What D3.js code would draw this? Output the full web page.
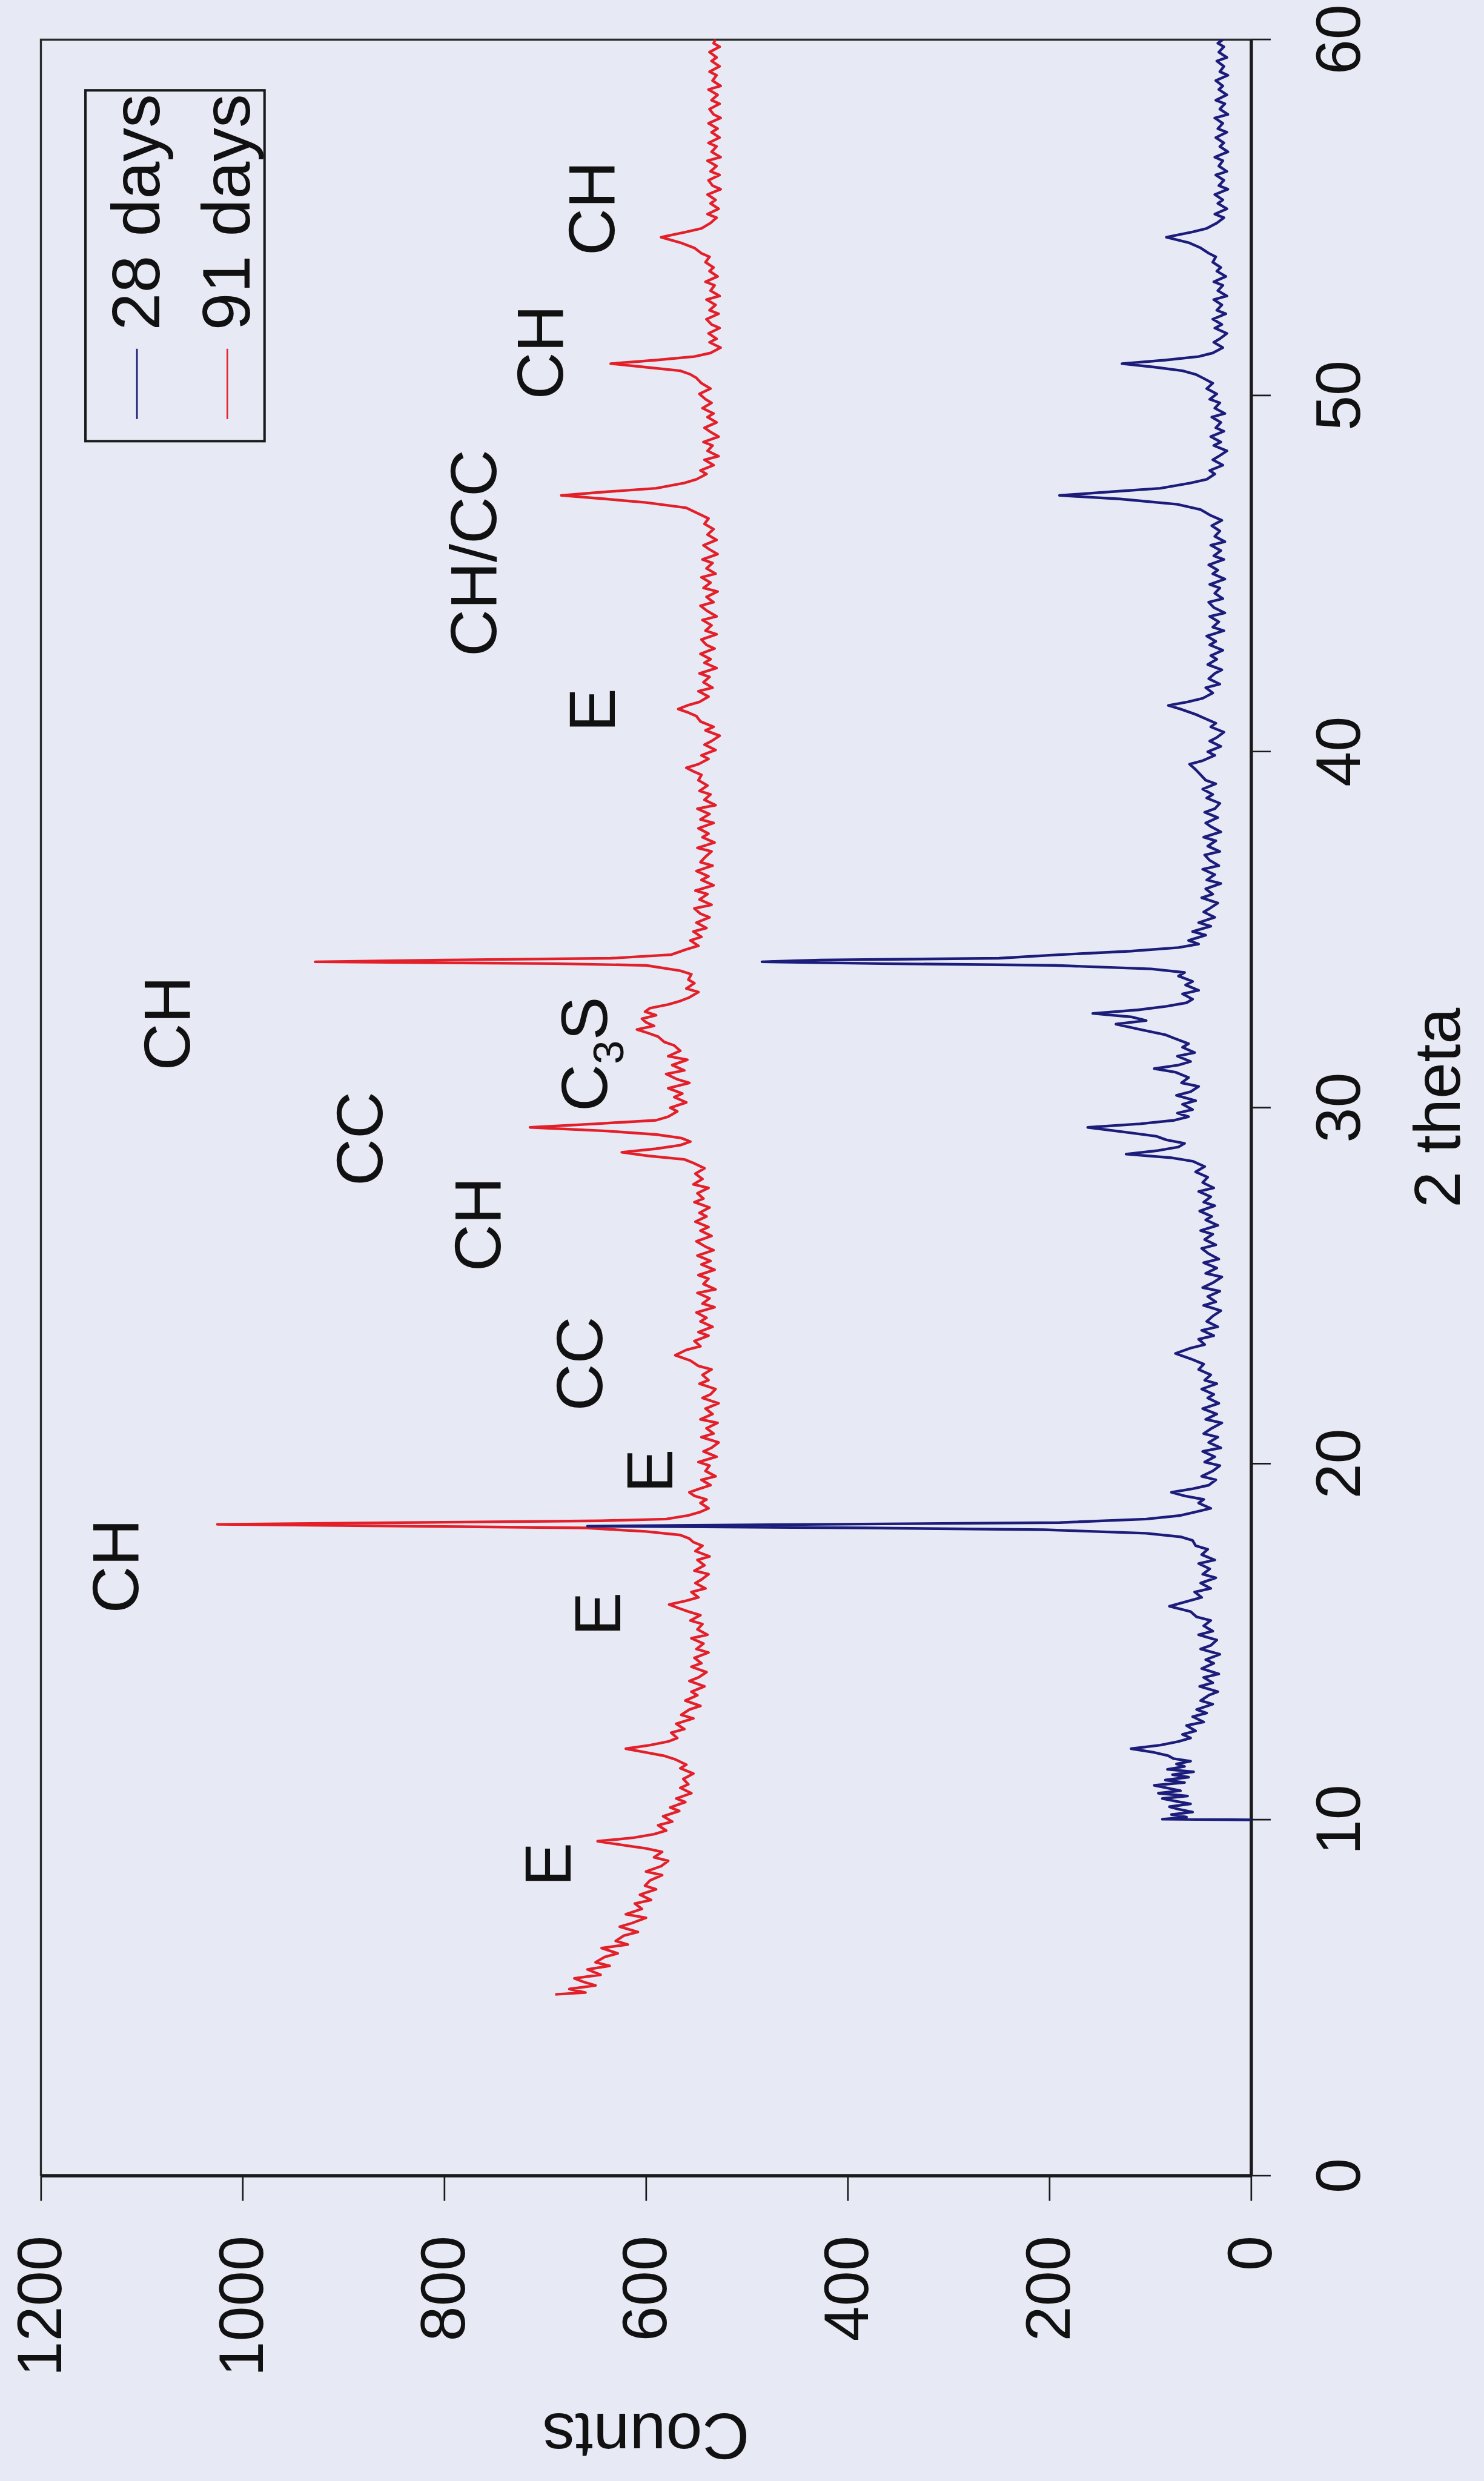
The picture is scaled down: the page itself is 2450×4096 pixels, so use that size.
<!doctype html>
<html lang="en">
<head>
<meta charset="UTF-8">
<title>XRD 28 / 91 days</title>
<script src="https://cdn.jsdelivr.net/npm/d3@7"></script>
<style>
  html, body { margin: 0; padding: 0; background: #e7eaf5; }
  svg { display: block; }
</style>
</head>
<body>
<svg id="chart" width="2450" height="4096"></svg>
<script>
// [2 theta, counts]
const days28 = [
  [10.0,0],[10.02,88],[10.08,64],[10.15,79],[10.22,58],[10.3,72],[10.37,81],[10.45,60],[10.52,74],[10.6,88],
  [10.67,63],[10.75,92],[10.82,70],[10.9,84],[10.97,96],[11.05,66],[11.12,85],[11.2,62],[11.27,78],[11.35,57],
  [11.42,83],[11.5,66],[11.57,74],[11.65,60],[11.72,77],[11.8,82],[11.9,97],[12.0,119],[12.1,90],[12.2,72],
  [12.3,60],[12.4,68],[12.5,55],[12.65,64],[12.75,47],[12.9,58],[13.0,44],[13.1,54],[13.25,38],[13.35,50],
  [13.5,42],[13.6,33],[13.75,51],[13.85,38],[14.0,47],[14.1,32],[14.25,49],[14.4,37],[14.5,45],[14.65,31],
  [14.8,50],[14.9,40],[15.05,34],[15.2,52],[15.3,38],[15.45,47],[15.6,40],[15.7,54],[15.85,60],[16.0,81],
  [16.15,62],[16.25,49],[16.4,56],[16.5,40],[16.65,50],[16.8,35],[16.9,48],[17.05,41],[17.2,52],[17.3,36],
  [17.45,49],[17.6,43],[17.7,55],[17.85,58],[17.95,70],[18.05,104],[18.15,205],[18.2,382],[18.25,658],[18.3,427],
  [18.35,190],[18.45,104],[18.55,70],[18.65,55],[18.75,40],[18.9,52],[19.0,47],[19.1,66],[19.2,79],[19.3,58],
  [19.4,42],[19.55,35],[19.65,49],[19.8,38],[19.95,31],[20.05,46],[20.2,36],[20.35,48],[20.45,30],[20.6,42],
  [20.75,33],[20.85,47],[21.0,39],[21.15,29],[21.25,45],[21.4,34],[21.55,48],[21.7,32],[21.85,43],[21.95,37],
  [22.1,49],[22.25,34],[22.35,46],[22.5,40],[22.65,52],[22.8,47],[22.95,60],[23.1,75],[23.25,60],[23.35,46],
  [23.5,52],[23.6,37],[23.75,49],[23.85,33],[24.0,44],[24.15,38],[24.3,30],[24.45,47],[24.55,35],[24.7,43],
  [24.85,31],[24.95,48],[25.1,37],[25.25,29],[25.35,45],[25.5,34],[25.65,47],[25.75,32],[25.9,42],[26.05,49],
  [26.15,35],[26.3,46],[26.45,38],[26.55,50],[26.7,33],[26.85,45],[26.95,39],[27.1,51],[27.25,36],[27.35,47],
  [27.5,40],[27.65,52],[27.75,37],[27.9,48],[28.05,43],[28.2,55],[28.35,46],[28.5,58],[28.6,80],[28.7,124],
  [28.8,92],[28.9,72],[29.0,66],[29.1,84],[29.2,94],[29.3,120],[29.45,162],[29.55,110],[29.65,76],[29.75,62],
  [29.85,73],[29.95,58],[30.1,68],[30.2,55],[30.35,74],[30.45,60],[30.6,52],[30.7,69],[30.85,62],[31.0,75],
  [31.1,96],[31.2,72],[31.3,60],[31.45,73],[31.55,56],[31.7,68],[31.8,62],[31.95,76],[32.05,85],[32.2,110],
  [32.35,134],[32.45,104],[32.55,118],[32.65,157],[32.75,112],[32.85,84],[32.95,64],[33.05,58],[33.2,68],[33.3,52],
  [33.45,65],[33.55,58],[33.7,72],[33.8,66],[33.9,99],[34.0,195],[34.05,366],[34.1,485],[34.15,427],[34.2,250],
  [34.3,190],[34.4,119],[34.5,72],[34.6,52],[34.7,62],[34.85,45],[34.95,58],[35.1,40],[35.2,52],[35.35,36],
  [35.5,47],[35.6,41],[35.75,33],[35.9,49],[36.0,38],[36.15,45],[36.3,30],[36.4,44],[36.55,36],[36.7,48],
  [36.8,32],[36.95,41],[37.1,46],[37.2,31],[37.35,43],[37.5,35],[37.6,47],[37.75,30],[37.9,40],[38.0,45],
  [38.15,33],[38.3,46],[38.4,36],[38.55,31],[38.7,44],[38.8,38],[38.95,48],[39.1,35],[39.2,45],[39.35,50],
  [39.5,55],[39.65,61],[39.75,48],[39.9,36],[40.0,43],[40.15,30],[40.3,41],[40.4,34],[40.55,27],[40.7,40],
  [40.8,35],[40.95,47],[41.05,55],[41.2,70],[41.3,82],[41.4,63],[41.5,48],[41.65,38],[41.8,45],[41.9,31],
  [42.05,42],[42.2,36],[42.3,29],[42.45,43],[42.6,34],[42.7,40],[42.85,28],[43.0,41],[43.1,35],[43.25,44],
  [43.4,27],[43.5,38],[43.65,32],[43.8,41],[43.9,26],[44.05,37],[44.2,42],[44.3,28],[44.45,36],[44.6,31],
  [44.7,41],[44.85,26],[45.0,38],[45.1,33],[45.25,42],[45.4,27],[45.5,37],[45.65,30],[45.8,40],[45.9,26],
  [46.05,36],[46.2,31],[46.35,39],[46.5,29],[46.65,41],[46.8,50],[46.95,73],[47.1,130],[47.2,190],[47.3,140],
  [47.4,90],[47.55,60],[47.65,44],[47.8,36],[47.9,41],[48.05,28],[48.2,38],[48.3,32],[48.45,24],[48.6,37],
  [48.7,30],[48.85,40],[49.0,27],[49.1,35],[49.25,30],[49.4,39],[49.5,26],[49.65,36],[49.8,31],[49.9,41],
  [50.05,34],[50.2,44],[50.35,38],[50.5,48],[50.6,55],[50.7,68],[50.8,95],[50.9,128],[51.0,85],[51.1,52],
  [51.2,38],[51.35,28],[51.5,37],[51.6,31],[51.75,24],[51.9,36],[52.0,29],[52.15,38],[52.3,25],[52.4,34],
  [52.55,29],[52.7,37],[52.8,24],[52.95,33],[53.1,28],[53.2,37],[53.35,25],[53.5,34],[53.6,30],[53.75,38],
  [53.9,35],[54.0,42],[54.15,50],[54.3,62],[54.45,84],[54.6,58],[54.7,44],[54.85,34],[55.0,27],[55.1,36],
  [55.25,24],[55.4,33],[55.5,28],[55.65,36],[55.8,23],[55.9,32],[56.05,27],[56.2,35],[56.3,24],[56.45,32],
  [56.6,28],[56.7,36],[56.85,23],[57.0,31],[57.1,27],[57.25,35],[57.4,24],[57.5,33],[57.65,28],[57.8,36],
  [57.9,23],[58.05,31],[58.2,26],[58.3,35],[58.45,24],[58.6,32],[58.7,28],[58.85,35],[59.0,23],[59.1,31],
  [59.25,27],[59.4,34],[59.5,24],[59.65,32],[59.8,27],[59.9,33],[60.0,28]
];

const days91 = [
  [5.1,690],[5.15,660],[5.25,676],[5.35,650],[5.45,662],[5.55,671],[5.65,645],[5.8,658],[5.9,636],[6.0,650],
  [6.15,641],[6.25,628],[6.4,644],[6.5,618],[6.6,630],[6.75,622],[6.85,608],[7.0,626],[7.1,614],[7.25,600],
  [7.35,620],[7.5,604],[7.65,611],[7.75,595],[7.9,606],[8.05,590],[8.15,601],[8.3,596],[8.45,584],[8.55,600],
  [8.7,585],[8.85,578],[8.95,592],[9.1,584],[9.2,600],[9.3,625],[9.4,648],[9.5,612],[9.6,592],[9.7,580],
  [9.85,588],[9.95,574],[10.1,583],[10.25,567],[10.35,576],[10.5,561],[10.6,570],[10.75,555],[10.9,566],[11.0,558],
  [11.15,563],[11.3,553],[11.45,566],[11.55,560],[11.7,571],[11.8,582],[11.9,601],[12.0,620],[12.1,596],[12.2,578],
  [12.3,569],[12.45,575],[12.55,562],[12.7,570],[12.85,553],[12.95,565],[13.1,557],[13.2,546],[13.35,561],[13.5,549],
  [13.6,555],[13.75,542],[13.9,557],[14.0,548],[14.15,540],[14.3,555],[14.4,545],[14.55,552],[14.7,538],[14.8,550],
  [14.95,543],[15.1,555],[15.2,539],[15.35,549],[15.5,544],[15.6,556],[15.75,546],[15.85,558],[15.95,568],[16.05,577],
  [16.15,561],[16.25,548],[16.4,555],[16.5,541],[16.65,551],[16.75,545],[16.9,538],[17.0,552],[17.15,542],[17.3,549],
  [17.4,537],[17.55,551],[17.7,544],[17.8,553],[17.9,557],[18.0,566],[18.1,600],[18.2,660],[18.25,840],[18.3,1025],
  [18.35,840],[18.4,645],[18.45,580],[18.55,558],[18.65,546],[18.75,538],[18.9,546],[19.0,540],[19.1,552],[19.2,557],
  [19.3,547],[19.4,536],[19.55,545],[19.65,531],[19.8,541],[19.95,537],[20.05,548],[20.2,530],[20.35,543],[20.45,535],
  [20.6,528],[20.75,545],[20.85,533],[21.0,540],[21.15,529],[21.25,546],[21.4,534],[21.55,541],[21.7,528],[21.85,544],
  [21.95,536],[22.1,531],[22.25,547],[22.35,538],[22.5,544],[22.65,535],[22.75,548],[22.9,556],[23.05,571],[23.2,560],
  [23.3,546],[23.45,552],[23.6,538],[23.7,548],[23.85,534],[24.0,546],[24.1,540],[24.25,550],[24.4,532],[24.5,544],
  [24.65,537],[24.8,549],[24.9,531],[25.05,543],[25.2,538],[25.3,548],[25.45,532],[25.6,545],[25.7,536],[25.85,549],
  [26.0,533],[26.1,541],[26.25,550],[26.4,535],[26.55,546],[26.65,538],[26.8,551],[26.95,540],[27.05,547],[27.2,537],
  [27.35,552],[27.45,543],[27.6,549],[27.75,538],[27.85,553],[28.0,544],[28.15,551],[28.3,542],[28.45,553],[28.55,562],
  [28.65,598],[28.75,624],[28.85,590],[28.95,566],[29.05,556],[29.15,565],[29.25,590],[29.35,640],[29.45,715],[29.55,650],
  [29.65,590],[29.75,578],[29.9,569],[30.0,576],[30.15,560],[30.3,572],[30.4,564],[30.55,578],[30.7,557],[30.8,569],
  [30.95,580],[31.05,562],[31.2,574],[31.35,559],[31.45,578],[31.6,566],[31.75,572],[31.85,582],[32.0,588],[32.1,598],
  [32.2,609],[32.3,592],[32.4,600],[32.5,604],[32.6,590],[32.7,601],[32.8,596],[32.9,578],[33.0,566],[33.1,557],
  [33.25,548],[33.35,560],[33.5,552],[33.6,558],[33.75,555],[33.85,566],[34.0,600],[34.05,690],[34.1,928],[34.15,800],
  [34.2,635],[34.3,575],[34.45,560],[34.55,548],[34.7,556],[34.8,545],[34.95,553],[35.05,540],[35.2,550],[35.35,537],
  [35.45,546],[35.6,552],[35.7,535],[35.85,547],[36.0,539],[36.1,551],[36.25,533],[36.4,545],[36.5,538],[36.65,550],
  [36.8,534],[36.9,546],[37.05,541],[37.2,535],[37.3,549],[37.45,532],[37.6,544],[37.7,538],[37.85,548],[38.0,533],
  [38.1,546],[38.25,537],[38.4,549],[38.5,531],[38.65,542],[38.8,536],[38.9,547],[39.05,539],[39.2,548],[39.35,545],
  [39.45,553],[39.55,560],[39.65,548],[39.8,538],[39.9,545],[40.05,531],[40.2,542],[40.3,535],[40.45,527],[40.6,541],
  [40.7,533],[40.85,546],[41.0,550],[41.1,558],[41.2,568],[41.3,559],[41.4,547],[41.55,538],[41.7,548],[41.8,534],
  [41.95,543],[42.1,537],[42.2,547],[42.35,530],[42.5,542],[42.6,536],[42.75,546],[42.9,532],[43.0,540],[43.15,545],
  [43.3,530],[43.4,541],[43.55,535],[43.7,544],[43.8,530],[43.95,539],[44.1,546],[44.2,533],[44.35,540],[44.5,529],
  [44.6,543],[44.75,536],[44.9,545],[45.0,531],[45.15,540],[45.3,534],[45.4,544],[45.55,529],[45.7,538],[45.8,543],
  [45.95,530],[46.1,539],[46.25,533],[46.4,542],[46.55,538],[46.7,549],[46.85,560],[47.0,600],[47.1,640],[47.2,684],
  [47.3,640],[47.4,590],[47.55,562],[47.65,550],[47.8,540],[47.9,546],[48.05,533],[48.2,542],[48.3,528],[48.45,539],
  [48.6,534],[48.7,543],[48.85,528],[49.0,537],[49.1,542],[49.25,530],[49.4,539],[49.5,533],[49.65,544],[49.8,535],
  [49.9,541],[50.05,547],[50.2,536],[50.35,545],[50.5,550],[50.6,556],[50.7,566],[50.8,600],[50.9,635],[51.0,590],
  [51.1,552],[51.2,536],[51.35,526],[51.5,537],[51.6,530],[51.75,538],[51.9,527],[52.0,535],[52.15,540],[52.3,528],
  [52.4,537],[52.55,531],[52.7,540],[52.8,527],[52.95,536],[53.1,532],[53.2,541],[53.35,529],[53.5,537],[53.6,533],
  [53.75,541],[53.9,537],[54.0,545],[54.15,552],[54.3,566],[54.45,585],[54.6,560],[54.7,545],[54.85,536],[55.0,530],
  [55.1,539],[55.25,528],[55.4,536],[55.5,531],[55.65,539],[55.8,526],[55.9,534],[56.05,538],[56.2,527],[56.3,536],
  [56.45,530],[56.6,539],[56.7,526],[56.85,535],[57.0,530],[57.1,538],[57.25,527],[57.4,535],[57.5,529],[57.65,538],
  [57.8,526],[57.9,533],[58.05,537],[58.2,527],[58.3,535],[58.45,529],[58.6,538],[58.7,526],[58.85,534],[59.0,530],
  [59.1,537],[59.25,527],[59.4,535],[59.5,530],[59.65,537],[59.8,527],[59.9,533],[60.0,531]
];

const seriesNames = ["28 days", "91 days"];
const seriesColors = ["#1c1c7a", "#e3202a"];

const thetaTicks = [0, 10, 20, 30, 40, 50, 60];
const countTicks = [0, 200, 400, 600, 800, 1000, 1200];

// phase labels: CH portlandite, CC calcite, E ettringite
const peakLabels = ["CH", "E", "E", "E", "CC", "CH", "CC", "C3S", "CH", "E", "CH/CC", "CH", "CH"];
const peakTheta  = [17.13, 8.75, 15.78, 19.8, 22.81, 26.73, 29.13, 31.51, 32.37, 41.17, 45.58, 51.22, 55.26];
const peakCounts = [1127, 698, 649, 597, 667, 768, 885, 662, 1076, 654, 772, 706, 655];

const font = "'Liberation Sans', Arial, Helvetica, sans-serif";
const ink = "#1a1a1a";

const svg = d3.select("#chart");
svg.append("rect").attr("width", 2450).attr("height", 4096).attr("fill", "#e7eaf5");

// the page is printed sideways: draw the chart upright, then turn it a quarter turn
const g = svg.append("g")
    .attr("transform", "scale(0.675) translate(0,6063) rotate(-90)");

const x = d3.scaleLinear().domain([0, 60]).range([741, 5966]);
const y = d3.scaleLinear().domain([0, 1200]).range([3060, 100]);

// frame on the far sides
g.append("path")
    .attr("d", `M${x(0)},${y(1200)}H${x(60)}V${y(0)}`)
    .attr("fill", "none").attr("stroke", "#2a2a2a").attr("stroke-width", 5);

const xAxis = g.append("g")
    .attr("transform", `translate(0,${y(0)})`)
    .call(d3.axisBottom(x).tickValues(thetaTicks).tickFormat(d3.format("d"))
        .tickSize(48).tickSizeOuter(0).tickPadding(108));

const yAxis = g.append("g")
    .attr("transform", `translate(${x(0)},0)`)
    .call(d3.axisLeft(y).tickValues(countTicks).tickFormat(d3.format("d"))
        .tickSize(61).tickSizeOuter(0).tickPadding(85));

[xAxis, yAxis].forEach(a => {
    a.attr("font-size", 155).attr("font-family", font);
    a.select(".domain").attr("stroke", ink).attr("stroke-width", 8);
    a.selectAll(".tick line").attr("stroke", ink).attr("stroke-width", 4);
    a.selectAll(".tick text").attr("fill", "#111");
});

g.append("text")
    .attr("x", x(30)).attr("y", 3570)
    .attr("text-anchor", "middle")
    .attr("font-family", font).attr("font-size", 160).attr("fill", "#111")
    .text("2 theta");

g.append("text")
    .attr("transform", `translate(160,${y(600)}) rotate(-90)`)
    .attr("text-anchor", "middle")
    .attr("font-family", font).attr("font-size", 160).attr("fill", "#111")
    .text("Counts");

var line = d3.line()
    .x(d => x(d[0]))
    .y(d => y(d[1]));

// 91 days underneath, 28 days on top
g.append("path").datum(days91)
    .attr("d", line).attr("fill", "none")
    .attr("stroke", seriesColors[1]).attr("stroke-width", 6.5).attr("stroke-linejoin", "round");

g.append("path").datum(days28)
    .attr("d", line).attr("fill", "none")
    .attr("stroke", seriesColors[0]).attr("stroke-width", 6.5).attr("stroke-linejoin", "round");

// peak labels
peakLabels.forEach((lab, i) => {
    var t = g.append("text")
        .attr("x", x(peakTheta[i])).attr("y", y(peakCounts[i]))
        .attr("dy", "0.36em")
        .attr("text-anchor", "middle")
        .attr("font-family", font).attr("font-size", 160).attr("fill", "#111");
    if (lab === "C3S") {
        t.append("tspan").text("C");
        t.append("tspan").attr("font-size", 105).attr("dy", 40).text("3");
        t.append("tspan").attr("dy", -40).text("S");
    } else {
        t.text(lab);
    }
});

// legend
const legend = g.append("g");
legend.append("rect")
    .attr("x", x(60) - 982).attr("y", 209)
    .attr("width", 858).attr("height", 438)
    .attr("fill", "none").attr("stroke", ink).attr("stroke-width", 6);

seriesNames.forEach((name, i) => {
    var cy = [335, 556][i];
    legend.append("line")
        .attr("x1", x(60) - 928).attr("x2", x(60) - 756)
        .attr("y1", cy).attr("y2", cy)
        .attr("stroke", seriesColors[i]).attr("stroke-width", 4);
    legend.append("text")
        .attr("x", x(60) - 711).attr("y", cy + 55)
        .attr("font-family", font).attr("font-size", 165).attr("fill", "#111")
        .text(name);
});
</script>
</body>
</html>
